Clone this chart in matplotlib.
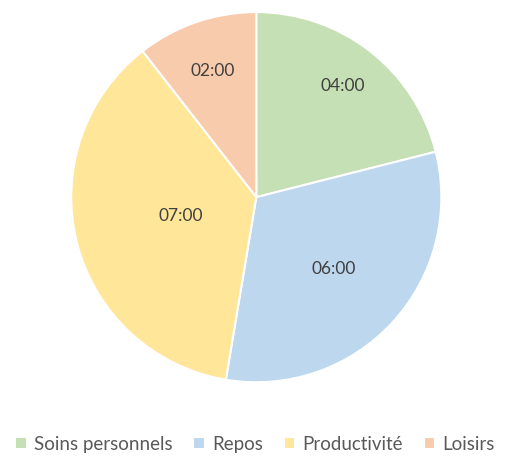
import numpy as np
import matplotlib.pyplot as plt

# Time spent per activity (hours)
categories = ['Soins personnels', 'Repos', 'Productivité', 'Loisirs']
hours = [4, 6, 7, 2]
colors = ['#C5E0B4', '#BDD7EE', '#FFE699', '#F8CBAD']

# radial position of each data label (fraction of radius)
label_dist = [0.76, 0.57, 0.42, 0.72]

plt.rcParams['font.family'] = ['Lato', 'DejaVu Sans']

total = sum(hours)


def fmt_time(pct):
    h = round(pct * total / 100)
    return f"{h:02d}:00"


fig = plt.figure(figsize=(5.05, 4.65), dpi=100)
ax = fig.add_axes([0.141, 0.178, 0.733, 0.796])

wedges, texts, autotexts = ax.pie(
    hours, colors=colors, startangle=90, counterclock=False,
    autopct=fmt_time, pctdistance=0.76,
    wedgeprops=dict(edgecolor='white', linewidth=1.5),
    textprops=dict(color='#404040', fontsize=12.5),
)

# move labels like Excel does
for w, t, d in zip(wedges, autotexts, label_dist):
    ang = np.deg2rad((w.theta1 + w.theta2) / 2)
    t.set_position((d * np.cos(ang), d * np.sin(ang)))

ax.set_xlim(-1, 1)
ax.set_ylim(-1, 1)
ax.set_aspect('equal')

fig.legend(wedges, categories, loc='center', bbox_to_anchor=(0.505, 0.045),
           ncol=4, frameon=False, fontsize=13.5, labelcolor='#595959',
           handlelength=0.6, handleheight=0.6, handletextpad=0.4,
           columnspacing=1.1)

fig.savefig('out.png', dpi=100)
